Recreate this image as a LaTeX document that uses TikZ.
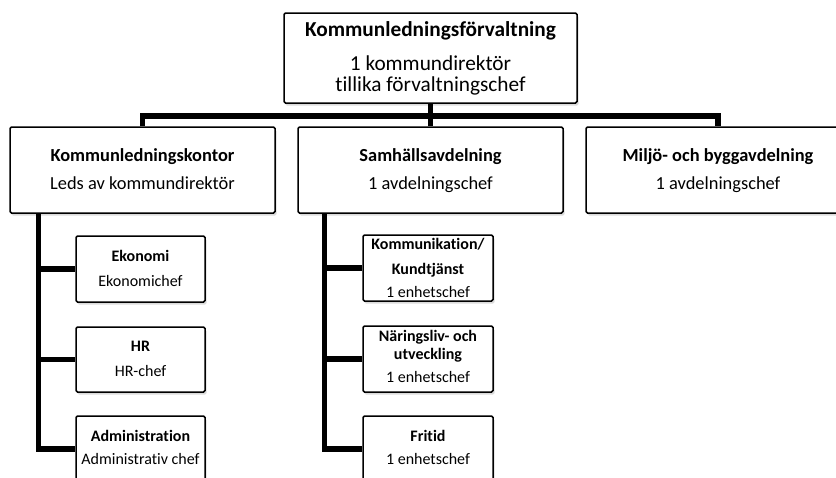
\documentclass[tikz,border=0pt]{standalone}
\usepackage{fontspec}
\setmainfont{Carlito}[RawFeature={-liga;-clig;-dlig;-calt}]
\usetikzlibrary{shadows}
\begin{document}
\begin{tikzpicture}[x=1pt,y=-1pt,
  box/.style={draw=black, line width=1.5pt, rounded corners=1.5pt, fill=white, inner sep=0pt,
    drop shadow={shadow xshift=1.5pt,shadow yshift=-2.5pt,opacity=0.28}},
  conn/.style={line width=5.5pt, draw=black},
  tA/.style={anchor=base, inner sep=0pt, font=\fontsize{21.3}{25}\selectfont},
  tB/.style={anchor=base, inner sep=0pt, font=\fontsize{18.4}{22}\selectfont},
  tC/.style={anchor=base, inner sep=0pt, font=\fontsize{16}{19}\selectfont}
]
\useasboundingbox (0,0) rectangle (836,477);
\fill[white] (0,0) rectangle (836,477);
\clip (0,0) rectangle (836,477);

% boxes
\node[box, minimum width=293pt, minimum height=90pt] (top) at (430.5,58) {};
\node[box, minimum width=265pt, minimum height=86pt] (kontor) at (142.5,170) {};
\node[box, minimum width=265pt, minimum height=86pt] (samh) at (430.5,170) {};
\node[box, minimum width=264pt, minimum height=86pt] (miljo) at (718,170) {};
\node[box, minimum width=129pt, minimum height=66pt] (eko) at (140.5,269) {};
\node[box, minimum width=129pt, minimum height=65pt] (hr) at (140.5,359.5) {};
\node[box, minimum width=129pt, minimum height=66pt] (adm) at (140.5,449) {};
\node[box, minimum width=130pt, minimum height=66pt] (komm) at (428,268) {};
\node[box, minimum width=130pt, minimum height=66pt] (nar) at (428,359) {};
\node[box, minimum width=130pt, minimum height=66pt] (fri) at (428,449) {};

% connectors
\coordinate (bus) at (0,116);
\draw[conn] (top.south) -- (top.south |- bus);
\draw[conn] (kontor.north) -- (kontor.north |- bus) -- (miljo.north |- bus) -- (miljo.north);
\draw[conn] (samh.north) -- (samh.north |- bus);

\coordinate (k0) at ([xshift=29pt]kontor.south west);
\draw[conn] (k0) |- (adm.west);
\draw[conn] (k0 |- eko.west) -- (eko.west);
\draw[conn] (k0 |- hr.west) -- (hr.west);

\coordinate (s0) at ([xshift=27pt]samh.south west);
\draw[conn] (s0) |- (fri.west);
\draw[conn] (s0 |- komm.west) -- (komm.west);
\draw[conn] (s0 |- nar.west) -- (nar.west);

% texts
\node[tA] (topT1) at (430.5,36) {\textbf{Kommunledningsförvaltning}};
\node[tA] (topT2) at (430.5,70) {1 kommundirektör};
\node[tA] (topT3) at (430.5,91) {tillika förvaltningschef};

\node[tB] (kontorT1) at (142.5,161) {\textbf{Kommunledningskontor}};
\node[tB] (kontorT2) at (142.5,189) {Leds av kommundirektör};
\node[tB] (samhT1) at (430.5,161) {\textbf{Samhällsavdelning}};
\node[tB] (samhT2) at (430.5,189) {1 avdelningschef};
\node[tB] (miljoT1) at (718,161) {\textbf{Miljö- och byggavdelning}};
\node[tB] (miljoT2) at (718,189) {1 avdelningschef};

\node[tC] (ekoT1) at (140.5,261) {\textbf{Ekonomi}};
\node[tC] (ekoT2) at (140.5,286) {Ekonomichef};
\node[tC] (hrT1) at (140.5,351) {\textbf{HR}};
\node[tC] (hrT2) at (140.5,376) {HR-chef};
\node[tC] (admT1) at (140.5,441) {\textbf{Administration}};
\node[tC] (admT2) at (140.5,464) {Administrativ chef};

\node[tC] (kommT1) at (428,249) {\textbf{Kommunikation/}};
\node[tC] (kommT2) at (428,274) {\textbf{Kundtjänst}};
\node[tC] (kommT3) at (428,297) {1 enhetschef};
\node[tC] (narT1) at (428,341) {\textbf{Näringsliv- och}};
\node[tC] (narT2) at (428,359) {\textbf{utveckling}};
\node[tC] (narT3) at (428,382) {1 enhetschef};
\node[tC] (friT1) at (428,441) {\textbf{Fritid}};
\node[tC] (friT2) at (428,464) {1 enhetschef};
\end{tikzpicture}
\end{document}
